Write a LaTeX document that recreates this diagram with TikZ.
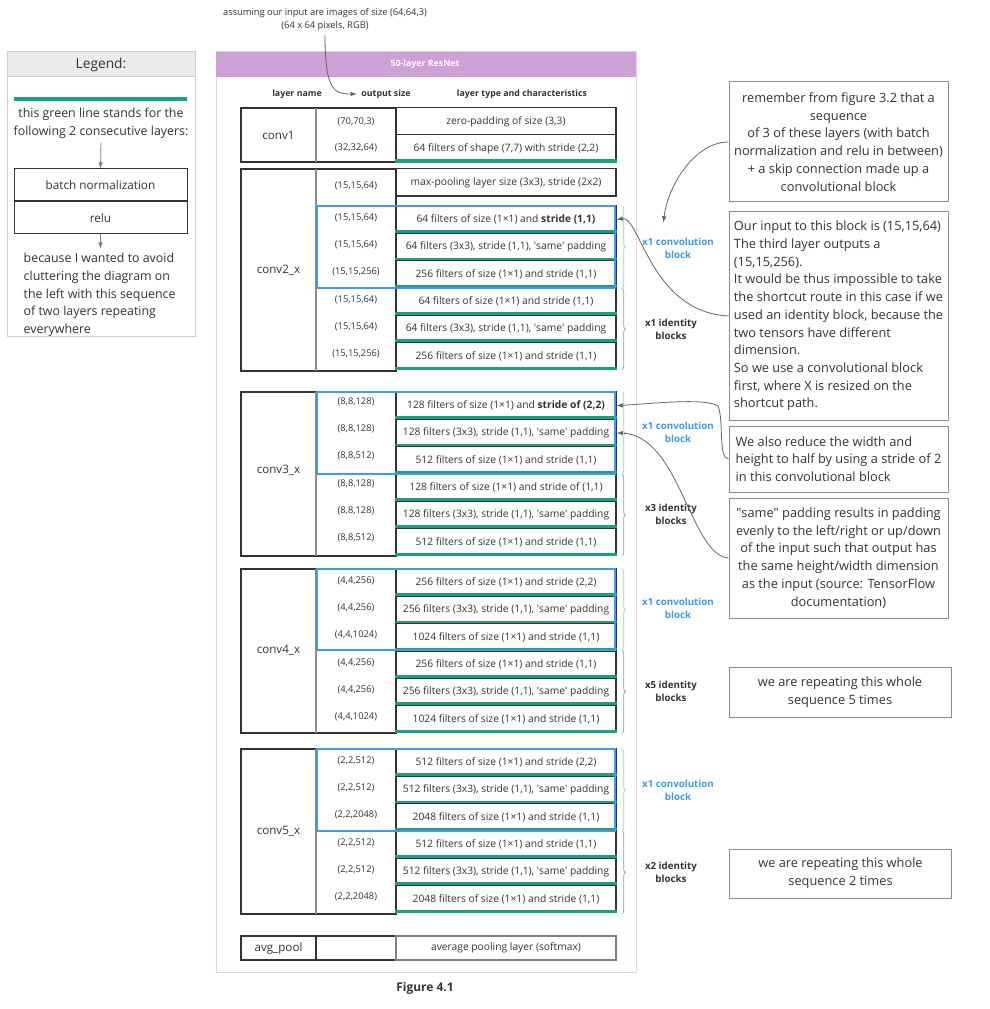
\documentclass[tikz,border=0pt]{standalone}
\usepackage{fontspec}
\setmainfont{Open Sans}
\usetikzlibrary{positioning,calc,decorations.pathreplacing}

\definecolor{ink}{HTML}{333333}
\definecolor{bnrelu}{HTML}{1AA082}
\definecolor{convblue}{HTML}{3D9BE9}
\definecolor{notegray}{HTML}{8C8C8C}
\definecolor{bandpurple}{HTML}{CDA0D6}
\definecolor{framepink}{HTML}{E9CFE9}

\begin{document}
\begin{tikzpicture}[x=0.75pt,y=-0.75pt,
        every node/.style={text=ink},
        cell/.style={draw=ink,line width=0.9pt,fill=white,minimum width=165pt,minimum height=20.4pt,
                     inner sep=0pt,font=\fontsize{7.7}{9}\selectfont},
        outsz/.style={font=\fontsize{7}{8}\selectfont},
        layername/.style={font=\fontsize{8.7}{10}\selectfont},
        colhead/.style={font=\bfseries\fontsize{6.6}{8}\selectfont},
        frame/.style={draw=ink,line width=0.9pt},
        colline/.style={draw=black!45,line width=0.9pt},
        note/.style={draw=notegray,line width=0.75pt,font=\fontsize{9.6}{13.3}\selectfont,minimum width=164.25pt},
        convlabel/.style={font=\bfseries\fontsize{7.3}{9.75}\selectfont,text=convblue,align=center},
        idlabel/.style={font=\bfseries\fontsize{7.3}{9.75}\selectfont,align=center},
        convbrace/.style={decorate,decoration={brace,amplitude=2.5pt},draw=convblue!55,line width=0.5pt},
        idbrace/.style={decorate,decoration={brace,amplitude=2.5pt},draw=black!40,line width=0.5pt},
        convbox/.style={draw=convblue,line width=1.5pt},
        legbox/.style={draw=ink,line width=0.75pt,minimum width=129.75pt,minimum height=24pt,font=\fontsize{8.8}{10}\selectfont},
        legtext/.style={font=\fontsize{9.3}{13.4}\selectfont},
        link/.style={draw=black!60,line width=0.6pt,-latex}]
   \path[fill=white] (0,0) rectangle (989,1009);

   % input note
   \node[font=\fontsize{7}{9.75}\selectfont,align=center] (topnote) at (325,19.5)
        {assuming our input are images of size (64,64,3)\\(64 x 64 pixels, RGB)};

   % legend
   \node[fill=black!8,draw=black!20,line width=0.75pt,minimum width=141pt,minimum height=18.75pt,
         font=\fontsize{10.3}{12}\selectfont] (leghead) at (101,64.5) {Legend:};
   \draw[draw=black!20,line width=0.75pt] (7,77) rectangle (195,336);
   \fill[bnrelu] (14,97) rectangle (187,101);
   \node[legtext,align=center] (legtxt) at (101,123) {this green line stands for the\\following 2 consecutive layers:};
   \node[legbox] (bn) at (100.5,185) {batch normalization};
   \node[legbox,below=0pt of bn] (relu) {relu};
   \node[legtext,align=left,anchor=west,font=\fontsize{9.3}{13.3}\selectfont] (because) at (19,295)
        {because I wanted to avoid\\cluttering the diagram on\\the left with this sequence\\of two layers repeating\\everywhere};
   \draw[link,black!50] (legtxt.south) -- (bn.north);
   \draw[link,black!50] (relu.south) -- (relu.south |- because.north);

   % resnet frame
   \draw[framepink,line width=0.75pt] (216,52) rectangle (636,972);
   \fill[bandpurple] (216,52) rectangle (636,77);
   \node[font=\bfseries\fontsize{6.6}{8}\selectfont,text=white] (title) at (425,64.5) {50-layer ResNet};
   \node[colhead] (hdrname) at (297,94) {layer name};
   \node[colhead] (hdrout) at (386,94) {output size};
   \node[colhead] (hdrtype) at (522,94) {layer type and characteristics};
   \draw[link] (topnote.south) .. controls (325,92) and (335,94) .. (hdrout.west);

   % conv1
   \draw[frame] (241,108) rectangle (396,162);
   \draw[colline] (316,108) -- (316,162);
   \node[layername] (n1) at (278.5,135) {conv1};
   \node[cell] (c1-1) at (506,121.5) {zero-padding of size (3,3)};
   \node[cell] (c1-2) at (506,148.5) {64 filters of shape (7,7) with stride (2,2)};
   \fill[bnrelu] (c1-2.south west) rectangle ([yshift=2.7pt]c1-2.south east);
   \node[outsz] (o1-1) at (356,122) {(70,70,3)};
   \node[outsz] (o1-2) at (356,148) {(32,32,64)};

   % conv2_x
   \draw[frame] (241,169) rectangle (396,371);
   \draw[colline] (316,169) -- (316,371);
   \node[layername] (n2) at (278.5,270) {conv2\_x};
   \node[cell] (c2-0) at (506,182.5) {max-pooling layer size (3x3), stride (2x2)};
   \node[outsz] (o2-0) at (356,186) {(15,15,64)};
   \foreach \o/\t [count=\i] in {
        {(15,15,64)}/{64 filters of size (1×1) and \textbf{stride (1,1)}},
        {(15,15,64)}/{64 filters (3x3), stride (1,1), \textquotesingle same\textquotesingle\ padding},
        {(15,15,256)}/{256 filters of size (1×1) and stride (1,1)},
        {(15,15,64)}/{64 filters of size (1×1) and stride (1,1)},
        {(15,15,64)}/{64 filters (3x3), stride (1,1), \textquotesingle same\textquotesingle\ padding},
        {(15,15,256)}/{256 filters of size (1×1) and stride (1,1)}}{
      \node[cell] (c2-\i) at (506,{206+(\i-0.5)*27.3}) {\t};
      \fill[bnrelu] (c2-\i.south west) rectangle ([yshift=2.7pt]c2-\i.south east);
      \node[outsz] (o2-\i) at (356,{206+(\i-0.5)*27.3-2}) {\o};
   }
   \draw[convbox] (317,206) rectangle (615,288);
   \draw[convbrace] (622,206) -- (622,288);
   \draw[idbrace] (622,288) -- (622,370);
   \node[convlabel] (lab2c) at (678,248) {x1 convolution\\block};
   \node[idlabel] (lab2i) at (671,329) {x1 identity\\blocks};

   % conv3_x
   \draw[frame] (241,392) rectangle (396,556);
   \draw[colline] (316,392) -- (316,556);
   \node[layername] (n3) at (278.5,470) {conv3\_x};
   \foreach \o/\t [count=\i] in {
        {(8,8,128)}/{128 filters of size (1×1) and \textbf{stride of (2,2)}},
        {(8,8,128)}/{128 filters (3x3), stride (1,1), \textquotesingle same\textquotesingle\ padding},
        {(8,8,512)}/{512 filters of size (1×1) and stride (1,1)},
        {(8,8,128)}/{128 filters of size (1×1) and stride of (1,1)},
        {(8,8,128)}/{128 filters (3x3), stride (1,1), \textquotesingle same\textquotesingle\ padding},
        {(8,8,512)}/{512 filters of size (1×1) and stride (1,1)}}{
      \node[cell] (c3-\i) at (506,{392+(\i-0.5)*27.3}) {\t};
      \fill[bnrelu] (c3-\i.south west) rectangle ([yshift=2.7pt]c3-\i.south east);
      \node[outsz] (o3-\i) at (356,{392+(\i-0.5)*27.3-4}) {\o};
   }
   \draw[convbox] (317,392) rectangle (615,474);
   \draw[convbrace] (622,392) -- (622,474);
   \draw[idbrace] (622,474) -- (622,556);
   \node[convlabel] (lab3c) at (678,432) {x1 convolution\\block};
   \node[idlabel] (lab3i) at (671,514) {x3 identity\\blocks};

   % conv4_x
   \draw[frame] (241,569) rectangle (396,733);
   \draw[colline] (316,569) -- (316,733);
   \node[layername] (n4) at (278.5,650) {conv4\_x};
   \foreach \o/\t [count=\i] in {
        {(4,4,256)}/{256 filters of size (1×1) and stride (2,2)},
        {(4,4,256)}/{256 filters (3x3), stride (1,1), \textquotesingle same\textquotesingle\ padding},
        {(4,4,1024)}/{1024 filters of size (1×1) and stride (1,1)},
        {(4,4,256)}/{256 filters of size (1×1) and stride (1,1)},
        {(4,4,256)}/{256 filters (3x3), stride (1,1), \textquotesingle same\textquotesingle\ padding},
        {(4,4,1024)}/{1024 filters of size (1×1) and stride (1,1)}}{
      \node[cell] (c4-\i) at (506,{569+(\i-0.5)*27.3}) {\t};
      \fill[bnrelu] (c4-\i.south west) rectangle ([yshift=2.7pt]c4-\i.south east);
      \node[outsz] (o4-\i) at (356,{569+(\i-0.5)*27.3-2}) {\o};
   }
   \draw[convbox] (317,569) rectangle (615,650);
   \draw[convbrace] (622,569) -- (622,650);
   \draw[idbrace] (622,650) -- (622,733);
   \node[convlabel] (lab4c) at (678,608) {x1 convolution\\block};
   \node[idlabel] (lab4i) at (671,691) {x5 identity\\blocks};

   % conv5_x
   \draw[frame] (241,749) rectangle (396,914);
   \draw[colline] (316,749) -- (316,914);
   \node[layername] (n5) at (278.5,831) {conv5\_x};
   \foreach \o/\t [count=\i] in {
        {(2,2,512)}/{512 filters of size (1×1) and stride (2,2)},
        {(2,2,512)}/{512 filters (3x3), stride (1,1), \textquotesingle same\textquotesingle\ padding},
        {(2,2,2048)}/{2048 filters of size (1×1) and stride (1,1)},
        {(2,2,512)}/{512 filters of size (1×1) and stride (1,1)},
        {(2,2,512)}/{512 filters (3x3), stride (1,1), \textquotesingle same\textquotesingle\ padding},
        {(2,2,2048)}/{2048 filters of size (1×1) and stride (1,1)}}{
      \node[cell] (c5-\i) at (506,{749+(\i-0.5)*27.3}) {\t};
      \fill[bnrelu] (c5-\i.south west) rectangle ([yshift=2.7pt]c5-\i.south east);
      \node[outsz] (o5-\i) at (356,{749+(\i-0.5)*27.3-2}) {\o};
   }
   \draw[convbox] (317,749) rectangle (615,831);
   \draw[convbrace] (622,749) -- (622,831);
   \draw[idbrace] (622,831) -- (622,914);
   \node[convlabel] (lab5c) at (678,790) {x1 convolution\\block};
   \node[idlabel] (lab5i) at (671,872) {x2 identity\\blocks};

   % avg_pool
   \draw[frame] (241,936) rectangle (396,960);
   \draw[frame] (316,936) -- (316,960);
   \node[layername] (n6) at (278.5,948) {avg\_pool};
   \node[cell,draw=black!50,minimum height=18pt] (c6) at (506,948) {average pooling layer (softmax)};

   \node[font=\bfseries\fontsize{9}{11}\selectfont] (fig) at (425,988) {Figure 4.1};

   % notes on the right
   \node[note,align=center,minimum height=90pt] (noteA) at (838.5,142)
        {remember from figure 3.2 that a\\sequence\\of 3 of these layers (with batch\\normalization and relu in between)\\+ a skip connection made up a\\convolutional block};
   \node[note,align=left,minimum height=156pt] (noteB) at (838.5,316)
        {Our input to this block is (15,15,64)\\The third layer outputs a\\(15,15,256).\\It would be thus impossible to take\\the shortcut route in this case if we\\used an identity block, because the\\two tensors have different\\dimension.\\So we use a convolutional block\\first, where X is resized on the\\shortcut path.};
   \node[note,align=left,minimum height=49.5pt] (noteC) at (838.5,459)
        {We also reduce the width and\\height to half by using a stride of 2\\in this convolutional block};
   \node[note,align=center,minimum height=90pt] (noteD) at (838.5,558)
        {\textquotedbl same\textquotedbl\ padding results in padding\\evenly to the left/right or up/down\\of the input such that output has\\the same height/width dimension\\as the input (source: TensorFlow\\documentation)};
   \node[note,align=center,minimum height=37.5pt,minimum width=166.5pt] (noteE) at (840,692)
        {we are repeating this whole\\sequence 5 times};
   \node[note,align=center,minimum height=36.75pt,minimum width=167pt] (noteF) at (840.5,873.5)
        {we are repeating this whole\\sequence 2 times};

   \draw[link] (noteA.west) .. controls (695,142) and (668,185) .. ([xshift=-11pt,yshift=8pt]lab2c.north);
   \draw[link] (noteB.west) .. controls (650,312) and (640,215) .. (c2-1.east);
   \draw[link] (noteC.west) .. controls (718,459) and (724,420) .. (718,406) .. controls (705,398) and (660,403) .. (c3-1.east);
   \draw[link] (noteD.west) .. controls (690,555) and (680,435) .. (c3-2.east);
\end{tikzpicture}
\end{document}
